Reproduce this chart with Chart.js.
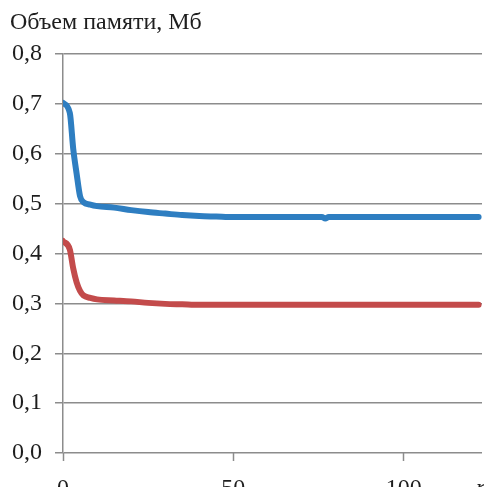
<!DOCTYPE html>
<html>
<head>
<meta charset="utf-8">
<script src="https://cdn.jsdelivr.net/npm/chart.js@4/dist/chart.umd.min.js"></script>
<style>
  html, body { margin: 0; padding: 0; background: #fff; }
  #wrap { width: 484px; height: 487px; }
</style>
</head>
<body>
<div id="wrap"><canvas id="chart"></canvas></div>
<script>
// values
const xs       = [0, 2, 3, 4, 5, 6, 8, 10, 15, 20, 25, 30, 35, 40, 45, 50, 60, 70, 76, 77, 78, 90, 100, 110, 122];
const blueVals = [0.702, 0.682, 0.61, 0.56, 0.515, 0.503, 0.498, 0.495, 0.492, 0.487, 0.483, 0.48, 0.477, 0.475, 0.474, 0.473, 0.473, 0.473, 0.473, 0.470, 0.473, 0.473, 0.473, 0.473, 0.473];
const redVals  = [0.425, 0.408, 0.37, 0.342, 0.325, 0.316, 0.311, 0.308, 0.306, 0.304, 0.301, 0.299, 0.298, 0.297, 0.297, 0.297, 0.297, 0.297, 0.297, 0.297, 0.297, 0.297, 0.297, 0.297, 0.297];
const xTicks   = [0, 50, 100];
const xName    = 'r';
const yTitle   = 'Объем памяти, Мб';

const serif = "'Liberation Serif', 'DejaVu Serif', serif";
const gridCol = '#8c8c8c';
const textCol = '#1e1e1e';
const namePos = 122.6;

const toPoints = vals => xs.map((x, i) => ({ x: x, y: vals[i] }));

const lineStyle = {
    borderWidth: 6,
    borderCapStyle: 'round',
    borderJoinStyle: 'round',
    pointRadius: 0,
    cubicInterpolationMode: 'monotone'
};

new Chart(document.getElementById('chart'), {
    type: 'line',
    data: {
        datasets: [
            Object.assign({ data: toPoints(blueVals), borderColor: '#2e7ec1' }, lineStyle),
            Object.assign({ data: toPoints(redVals), borderColor: '#c34b4b' }, lineStyle)
        ]
    },
    options: {
        responsive: true,
        maintainAspectRatio: false,
        animation: false,
        layout: { padding: { left: 10, right: 2, top: 0, bottom: 0 } },
        plugins: {
            legend: { display: false },
            tooltip: { enabled: false },
            title: {
                display: true,
                text: yTitle,
                align: 'start',
                color: textCol,
                font: { family: serif, size: 24, weight: 'normal' },
                padding: { top: 8, bottom: 17.2 }
            }
        },
        scales: {
            x: {
                type: 'linear',
                min: 0,
                max: 123,
                afterBuildTicks: s => {
                    s.ticks = xTicks.map(v => ({ value: v })).concat([{ value: namePos }]);
                },
                afterFit: s => {
                    s.height = 487 - 453;
                    s.paddingLeft = 0;
                    s.paddingRight = 0;
                },
                grid: {
                    drawOnChartArea: false,
                    drawTicks: true,
                    tickLength: 8,
                    tickWidth: 1.5,
                    tickColor: c => (c.tick && c.tick.value === namePos) ? 'rgba(0,0,0,0)' : gridCol
                },
                border: { display: false },
                ticks: {
                    autoSkip: false,
                    maxRotation: 0,
                    padding: 13,
                    color: textCol,
                    font: c => ({
                        family: serif,
                        size: 24,
                        style: (c.tick && c.tick.value === namePos) ? 'italic' : 'normal'
                    }),
                    callback: v => v === namePos ? xName : String(v)
                }
            },
            y: {
                min: 0,
                max: 0.8,
                afterFit: s => { s.width = 53; },
                grid: {
                    color: gridCol,
                    lineWidth: 1.5,
                    drawTicks: true,
                    tickLength: 8
                },
                border: { display: true, color: gridCol, width: 1.5 },
                ticks: {
                    stepSize: 0.1,
                    padding: 13,
                    color: textCol,
                    font: { family: serif, size: 24 },
                    callback: v => v.toFixed(1).replace('.', ',')
                }
            }
        }
    }
});
</script>
</body>
</html>
